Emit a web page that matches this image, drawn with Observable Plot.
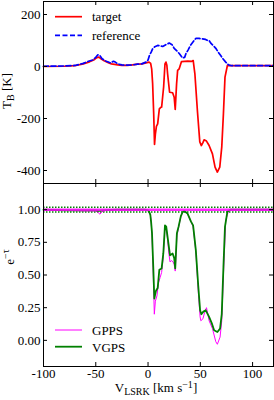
<!DOCTYPE html>
<html><head><meta charset="utf-8">
<script src="https://cdn.jsdelivr.net/npm/d3@7"></script>
<script src="https://cdn.jsdelivr.net/npm/@observablehq/plot@0.6"></script>
<style>
body{margin:0;background:#fff;}
#chart{width:274px;height:400px;overflow:hidden;}
#chart svg{display:block;}
</style>
</head><body><div id="chart"></div>
<script>
// ---------- data ----------
const xTicks = [-100, -50, 0, 50, 100];
const yTicksTop = [-400, -200, 0, 200];
const yTicksBottom = [0, 0.25, 0.5, 0.75, 1.0];

const targetV = [-100,-80,-70,-62,-56,-52,-49,-47,-45,-42,-38,-35,-32,-29,-25,-20,-15,-10,-6,-2,1,2.5,3.5,4.4,5.4,6.2,7,8,9.2,10.8,12,13,14.9,16.2,17.1,18,18.7,20.6,23.5,25,26,27.3,28.3,29.8,32,35,38,42,43.2,44.8,47.3,49.5,51,52.5,53.6,55.9,58.4,61.6,64.1,66.3,68.6,70.5,72.1,73.6,75.9,79,90,120];
const targetT = [0,1,3,10,18,25,34,36,30,22,15,10,8,6,4,4,6,9,10,14,17,12,-10,-67,-182,-300,-260,-230,-221,-163,-158,-156,-79,10,17,5,-28,-99,-101,-118,-165,-67,-15,-9,19,20,21,20,23,-28,-175,-290,-304,-293,-282,-287,-304,-336,-387,-406,-387,-310,-182,-41,4,3,3,3];

const referenceV = [-100,-80,-70,-62,-57,-53,-50,-48,-46,-44,-40,-36,-33,-31,-29,-25,-20,-15,-10,-6,-2,0,1.3,3,4.4,6.5,9.2,12,14,17,20.3,23,25,28,30,33,35,36.2,38.5,41,43.5,45.7,49,52,55,56.8,58.4,60,62.5,64.8,67,69.5,72,74.3,76,77.5,80,100,120];
const referenceT = [1,2,4,12,20,25,35,45,42,30,20,14,20,16,10,6,5,6,9,10,17,25,42,55,68,76,81,79,77,84,90,84,70,58,49,33,35,49,65,84,97,108,108,106,104,100,100,90,80,70,56,42,28,17,10,5,3,3,3];

const vgpsV = [-100,-80,-60,-50,-47,-44,-30,-20,-10,-3,0,1,2.2,3,3.8,5,6,7.6,9.2,10.8,13,14.6,16.2,17.4,18.7,21,23.5,25,26,27.6,29.2,31.4,33,34.6,37.8,41,43.1,45.7,48,49.8,51,52.9,55.2,58.4,61,63.2,66.3,68.9,70.5,72.1,73.6,75.9,79,100,120];
const vgpsE = [1.0,0.995,0.995,0.995,0.99,0.995,1.0,1.0,1.0,1.0,0.995,0.985,0.96,0.9,0.82,0.56,0.32,0.38,0.40,0.54,0.55,0.665,0.88,0.87,0.79,0.65,0.665,0.63,0.55,0.82,0.87,0.95,0.98,0.99,0.97,0.91,0.88,0.69,0.42,0.23,0.20,0.22,0.23,0.18,0.13,0.077,0.064,0.09,0.20,0.56,0.87,0.985,1.0,1.0,1.0];

const gppsV = [-100,-80,-60,-50,-48,-46,-44,-40,-30,-20,-10,-3,0,1,2.2,3,3.8,5,6,7,8.5,10,11.5,13,14.6,16.2,17.4,18.7,20,21,22.5,24,25,26,27.6,29.2,31.4,33,34.6,37.8,41,43.1,45.7,48,49.8,50.5,52.5,54,55.9,57,58.4,61.6,64.8,66.3,68.9,70.5,72.1,74.3,76.8,79,100,120];
const gppsE = [1.0,0.995,0.99,0.99,0.98,0.965,0.985,0.995,1.0,1.0,1.0,1.0,0.995,0.985,0.96,0.9,0.8,0.5,0.2,0.3,0.34,0.44,0.48,0.52,0.64,0.87,0.86,0.77,0.66,0.60,0.61,0.60,0.58,0.53,0.80,0.86,0.95,0.98,0.99,0.97,0.91,0.87,0.68,0.38,0.18,0.15,0.165,0.21,0.25,0.21,0.15,0.09,-0.01,-0.03,0.025,0.15,0.5,0.92,0.985,1.0,1.0,1.0];

const noiseLevels = [0.982, 1.018];
const unity = [1];

// ---------- helpers ----------
const zip = (vs, ys) => vs.slice(0, Math.min(vs.length, ys.length)).map((v, i) => ({v, y: ys[i]}));
const FONT = "'Liberation Serif','Times New Roman',Times,serif";
const FS = 13;
const SFS = 10; // script font size
const W = 274, ML = 43, MR = 1;
const TL = 4; // tick length
const PW = W - ML - MR;

function inwardXTicks(H) {
  return [
    Plot.tickX(xTicks, {x: d => d, insetTop: H - TL, stroke: "black", strokeWidth: 1}),
    Plot.tickX(xTicks, {x: d => d, insetBottom: H - TL, stroke: "black", strokeWidth: 1}),
  ];
}
function inwardYTicks(ticks) {
  return [
    Plot.tickY(ticks, {y: d => d, insetRight: PW - TL, stroke: "black", strokeWidth: 1}),
    Plot.tickY(ticks, {y: d => d, insetLeft: PW - TL, stroke: "black", strokeWidth: 1}),
  ];
}

// ---------- top panel ----------
const topH = 183, topMT = 1, topMB = 0;
const topPH = topH - topMT - topMB;
const topPlot = Plot.plot({
  width: W, height: topH,
  marginTop: topMT, marginBottom: topMB, marginLeft: ML, marginRight: MR,
  style: {fontFamily: FONT, fontSize: FS + "px", background: "white", color: "black"},
  x: {domain: [-100, 120], axis: null},
  y: {domain: [-450, 250], axis: null},
  marks: [
    Plot.line(zip(targetV, targetT), {x: "v", y: "y", stroke: "#ff0000", strokeWidth: 1.7}),
    Plot.line(zip(referenceV, referenceT), {x: "v", y: "y", stroke: "#0000ff", strokeWidth: 1.7, strokeDasharray: "5,2.5"}),
    Plot.frame({stroke: "black", strokeWidth: 1}),
    ...inwardXTicks(topPH),
    ...inwardYTicks(yTicksTop),
    Plot.axisY({ticks: yTicksTop, tickSize: 0, tickPadding: 3, tickFormat: d => String(d), label: null, fontSize: FS})
  ]
});

// ---------- bottom panel ----------
const botH = 217, botMT = 0, botMB = 34;
const botPH = botH - botMT - botMB;
const bottomPlot = Plot.plot({
  width: W, height: botH,
  marginTop: botMT, marginBottom: botMB, marginLeft: ML, marginRight: MR,
  style: {fontFamily: FONT, fontSize: FS + "px", background: "white", color: "black"},
  x: {domain: [-100, 120], axis: null},
  y: {domain: [-0.2, 1.2], axis: null},
  marks: [
    Plot.ruleY(noiseLevels, {stroke: "#008000", strokeWidth: 1.5, strokeDasharray: "1.5,1.5"}),
    Plot.line(zip(gppsV, gppsE), {x: "v", y: "y", stroke: "#ff00ff", strokeWidth: 1}),
    Plot.line(zip(vgpsV, vgpsE), {x: "v", y: "y", stroke: "#008000", strokeWidth: 1.8}),
    Plot.ruleY(unity, {stroke: "#ff00ff", strokeWidth: 2.5, strokeOpacity: 0.85}),
    Plot.frame({stroke: "black", strokeWidth: 1}),
    ...inwardXTicks(botPH),
    ...inwardYTicks(yTicksBottom),
    Plot.axisY({ticks: yTicksBottom, tickSize: 0, tickPadding: 3, tickFormat: d => d.toFixed(2), label: null, fontSize: FS}),
    Plot.axisX({ticks: xTicks, tickSize: 0, tickPadding: 2, tickFormat: d => String(d), label: null, fontSize: FS})
  ]
});

const chart = document.getElementById("chart");
chart.appendChild(topPlot);
chart.appendChild(bottomPlot);

// ---------- labels & legends ----------
function addText(svg, attrs) {
  const t = d3.select(svg).append("text")
    .attr("font-family", FONT).attr("font-size", FS).attr("fill", "black")
    .attr("text-anchor", "start").attr("stroke", "none");
  for (const k in attrs) t.attr(k, attrs[k]);
  return t;
}
function legendEntry(svg, y, label, stroke, sw, dash, textBaseline) {
  const l = d3.select(svg).append("line").attr("x1", 55).attr("x2", 82).attr("y1", y).attr("y2", y)
    .attr("stroke", stroke).attr("stroke-width", sw);
  if (dash) l.attr("stroke-dasharray", dash);
  addText(svg, {x: 92, y: textBaseline}).text(label);
}
legendEntry(topPlot, 16.7, "target", "#ff0000", 1.7, null, 20.5);
legendEntry(topPlot, 35.3, "reference", "#0000ff", 1.7, "5,2.5", 39.5);
legendEntry(bottomPlot, 330 - 183, "GPPS", "#ff00ff", 1, null, 334.5 - 183);
legendEntry(bottomPlot, 346.7 - 183, "VGPS", "#008000", 1.8, null, 351.5 - 183);

// y label top: T_B [K]
{
  const t = addText(topPlot, {transform: "translate(10.5,91) rotate(-90)", "text-anchor": "middle"});
  t.append("tspan").text("T");
  t.append("tspan").attr("dy", 3).attr("font-size", SFS).text("B");
  t.append("tspan").attr("dy", -3).text(" [K]");
}
// y label bottom: e^{-tau}
{
  const t = addText(bottomPlot, {transform: `translate(13.5,${257 - 183}) rotate(-90)`, "text-anchor": "middle"});
  t.append("tspan").text("e");
  t.append("tspan").attr("dy", -4.5).attr("font-size", SFS).text("\u2212\u03C4");
}
// x label
{
  const t = addText(bottomPlot, {x: 156, y: 392 - 183, "text-anchor": "middle"});
  t.append("tspan").text("V");
  t.append("tspan").attr("dy", 2.5).attr("font-size", SFS).text("LSRK");
  t.append("tspan").attr("dy", -2.5).text(" [km s");
  t.append("tspan").attr("dy", -4).attr("font-size", SFS).text("\u22121");
  t.append("tspan").attr("dy", 4).text("]");
}
</script></body></html>
